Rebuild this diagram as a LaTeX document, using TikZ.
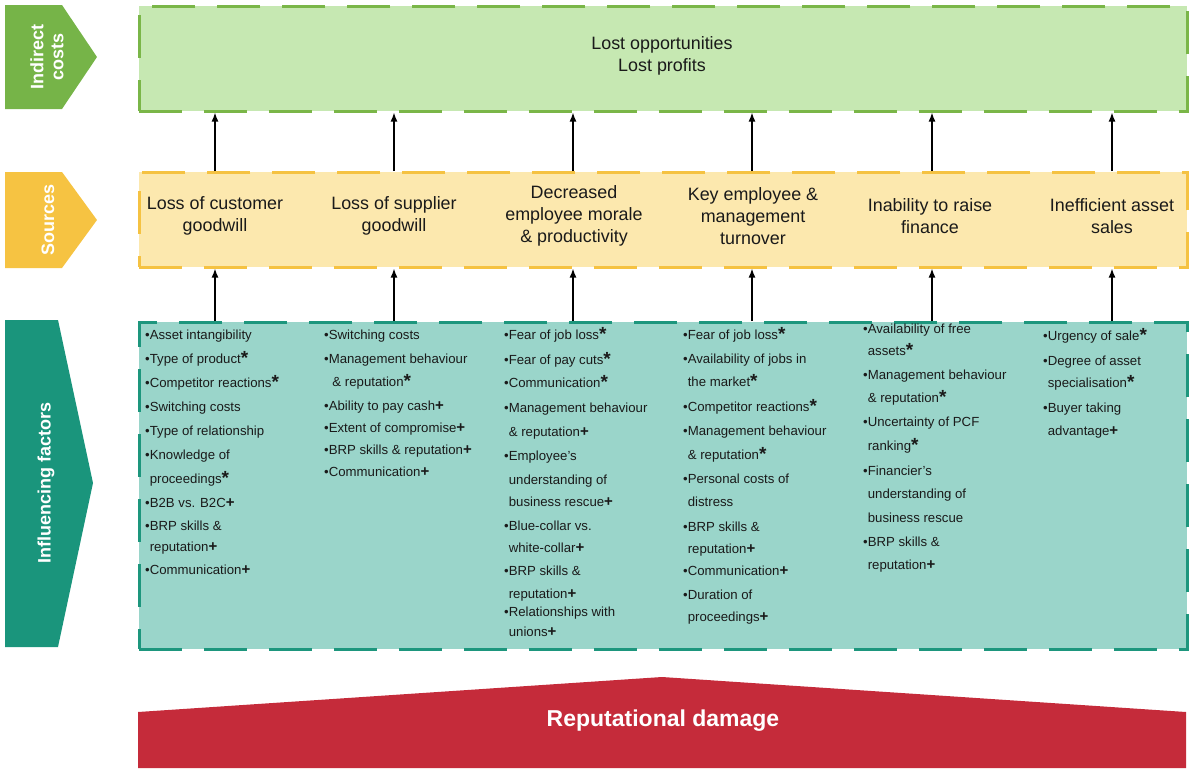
\documentclass[tikz,border=0pt]{standalone}
\usepackage{fontspec}
\setmainfont{Liberation Sans}
\usetikzlibrary{arrows.meta}
\definecolor{gborder}{HTML}{7AB648}
\definecolor{gfill}{HTML}{C6E8B2}
\definecolor{gchev}{HTML}{76B448}
\definecolor{yborder}{HTML}{F5C242}
\definecolor{yfill}{HTML}{FCE8AE}
\definecolor{ychev}{HTML}{F6C342}
\definecolor{tborder}{HTML}{1D967D}
\definecolor{tfill}{HTML}{9AD5CA}
\definecolor{tchev}{HTML}{1A957C}
\definecolor{rdam}{HTML}{C52B3A}
\definecolor{txt}{HTML}{1A1A1A}
\newcommand{\sst}{\raisebox{-1pt}{\fontsize{19}{19}\selectfont\bfseries *}}
\newcommand{\spl}{{\fontsize{15}{15}\selectfont\bfseries +}}
\newcommand{\cind}{\hphantom{•}}
\tikzset{
  item/.style={anchor=west, inner sep=0pt, text height=9.5pt, text depth=2.8pt,
    font=\fontsize{13.2}{15}\selectfont, text=txt},
  box/.style={anchor=north west, inner sep=0pt, line width=2.6pt,
    dash pattern=on 43pt off 22pt, minimum width=1048pt},
  srctxt/.style={align=center, font=\fontsize{17.9}{22}\selectfont, text=txt},
  chevtxt/.style={rotate=90, align=center, text=white,
    font=\fontsize{18}{20}\selectfont\bfseries},
  arr/.style={line width=1.3pt, -{Latex[length=9pt,width=7pt]}},
}
\begin{document}
\begin{tikzpicture}[x=1pt,y=-1pt]
\useasboundingbox (0,0) rectangle (1189,769);
% chevrons
\fill[gchev] (5,5) -- (62,5) -- (97,57) -- (62,109) -- (5,109) -- cycle;
\fill[ychev] (5,172) -- (62,172) -- (97,220) -- (62,268) -- (5,268) -- cycle;
\fill[tchev] (5,320) -- (58,320) -- (93,483) -- (58,647) -- (5,647) -- cycle;
\node[chevtxt] (l1) at (47,57) {Indirect\\costs};
\node[chevtxt] (l2) at (48,220) {Sources};
\node[chevtxt] (l3) at (46,483) {Influencing factors};
% boxes
\node[box, draw=gborder, fill=gfill, minimum height=105pt] (top) at (138,5) {};
\node[box, draw=yborder, fill=yfill, minimum height=95pt] (src) at (138,171) {};
\node[box, draw=tborder, fill=tfill, minimum height=327pt] (inf) at (138,321) {};
\node[srctxt] (toptext) at (662,56) {Lost opportunities\\Lost profits};
% column coordinates
\foreach \cx [count=\i] in {215,394,573,752,932,1112}
  \coordinate (k\i) at (\cx,0);
\foreach \i in {1,...,6} {
  \draw[arr] (src.north -| k\i) -- (top.south -| k\i);
  \draw[arr] (inf.north -| k\i) -- (src.south -| k\i);
}
% sources
\node[srctxt] (s1) at (215,216) {Loss of customer\\goodwill};
\node[srctxt] (s2) at (394,216) {Loss of supplier\\goodwill};
\node[srctxt] (s3) at (574,216) {Decreased\\employee morale\\\& productivity};
\node[srctxt] (s4) at (753,216) {Key employee \&\\management\\turnover};
\node[srctxt] (s5) at (930,216) {Inability to raise\\finance};
\node[srctxt] (s6) at (1112,216) {Inefficient asset\\sales};
% factor lists
\foreach \y/\txt [count=\i] in {
  336/{•Asset intangibility},
  360/{•Type of product\sst},
  384/{•Competitor reactions\sst},
  408/{•Switching costs},
  432/{•Type of relationship},
  456/{•Knowledge of},
  480/{\cind proceedings\sst},
  504/{•B2B vs. B2C\spl},
  527/{•BRP skills \&},
  548/{\cind reputation\spl},
  571/{•Communication\spl}}
  \node[item] (fa\i) at (145,\y) {\txt};
\foreach \y/\txt [count=\i] in {
  336/{•Switching costs},
  360/{•Management behaviour},
  383/{\cind\ \& reputation\sst},
  407/{•Ability to pay cash\spl},
  429/{•Extent of compromise\spl},
  451/{•BRP skills \& reputation\spl},
  473/{•Communication\spl}}
  \node[item] (fb\i) at (324,\y) {\txt};
\foreach \y/\txt [count=\i] in {
  336/{•Fear of job loss\sst},
  361/{•Fear of pay cuts\sst},
  384/{•Communication\sst},
  409/{•Management behaviour},
  433/{\cind\& reputation\spl},
  457/{•Employee's},
  481/{\cind understanding of},
  503/{\cind business rescue\spl},
  527/{•Blue-collar vs.},
  549/{\cind white-collar\spl},
  572/{•BRP skills \&},
  595/{\cind reputation\spl},
  613/{•Relationships with},
  633/{\cind unions\spl}}
  \node[item] (fc\i) at (504,\y) {\txt};
\foreach \y/\txt [count=\i] in {
  336/{•Fear of job loss\sst},
  360/{•Availability of jobs in},
  383/{\cind the market\sst},
  408/{•Competitor reactions\sst},
  432/{•Management behaviour},
  456/{\cind\& reputation\sst},
  480/{•Personal costs of},
  503/{\cind distress},
  528/{•BRP skills \&},
  550/{\cind reputation\spl},
  572/{•Communication\spl},
  596/{•Duration of},
  618/{\cind proceedings\spl}}
  \node[item] (fd\i) at (683,\y) {\txt};
\foreach \y/\txt [count=\i] in {
  330/{•Availability of free},
  352/{\cind assets\sst},
  376/{•Management behaviour},
  399/{\cind\& reputation\sst},
  423/{•Uncertainty of PCF},
  447/{\cind ranking\sst},
  472/{•Financier's},
  495/{\cind understanding of},
  519/{\cind business rescue},
  543/{•BRP skills \&},
  566/{\cind reputation\spl}}
  \node[item] (fe\i) at (863,\y) {\txt};
\foreach \y/\txt [count=\i] in {
  337/{•Urgency of sale\sst},
  362/{•Degree of asset},
  384/{\cind specialisation\sst},
  409/{•Buyer taking},
  432/{\cind advantage\spl}}
  \node[item] (ff\i) at (1043,\y) {\txt};
% reputational damage
\fill[rdam] (138,712) -- (662,677) -- (1186,712) -- (1186,768) -- (138,768) -- cycle;
\node[text=white, font=\fontsize{23}{26}\selectfont\bfseries] (rep) at (663,721) {Reputational damage};
\end{tikzpicture}
\end{document}
